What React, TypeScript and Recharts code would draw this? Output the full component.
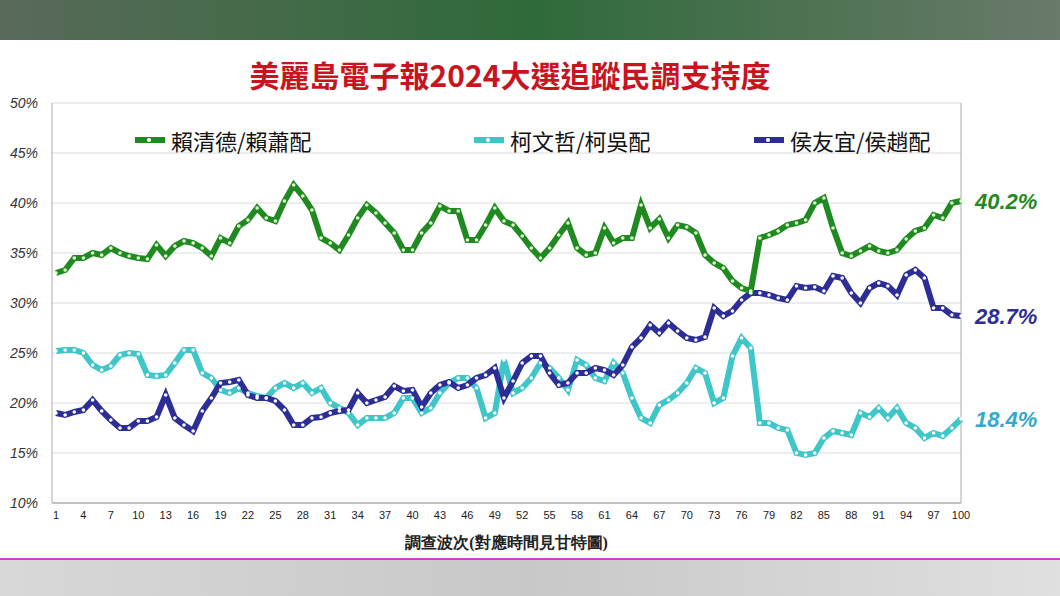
import { LineChart, Line, XAxis, YAxis, CartesianGrid } from 'recharts'

// 調查波次 1..100
const waves = Array.from({ length: 100 }, (_, i) => i + 1)
const xTicks = [1, 4, 7, 10, 13, 16, 19, 22, 25, 28, 31, 34, 37, 40, 43, 46, 49, 52, 55, 58, 61, 64, 67, 70, 73, 76, 79, 82, 85, 88, 91, 94, 97, 100]
const yTicks = [10, 15, 20, 25, 30, 35, 40, 45, 50]

// 賴清德/賴蕭配
const lai = [
  33, 33.3, 34.5, 34.5, 35, 34.8, 35.5, 35, 34.7, 34.5,
  34.4, 35.8, 34.7, 35.7, 36.2, 36, 35.5, 34.7, 36.5, 36,
  37.7, 38.3, 39.5, 38.5, 38.2, 40.2, 41.8, 40.7, 39.3, 36.5,
  36, 35.3, 36.8, 38.5, 39.8, 39, 38, 37, 35.3, 35.3,
  37, 38, 39.7, 39.2, 39.2, 36.3, 36.3, 37.8, 39.5, 38.2,
  37.8, 36.7, 35.5, 34.5, 35.5, 36.8, 38, 35.5, 34.8, 35,
  37.5, 36, 36.5, 36.5, 39.8, 37.5, 38.4, 36.5, 37.8, 37.6,
  37, 34.8, 34, 33.5, 32.2, 31.5, 31.2, 36.5, 36.8, 37.2,
  37.8, 38, 38.3, 40, 40.5, 37.5, 35, 34.7, 35.2, 35.7,
  35.2, 35, 35.3, 36.4, 37.2, 37.5, 38.8, 38.5, 40, 40.2,
]
// 柯文哲/柯吳配
const ko = [
  25.2, 25.3, 25.3, 25, 23.8, 23.3, 23.7, 24.8, 25, 24.9,
  22.8, 22.7, 22.8, 24, 25.3, 25.3, 23, 22.5, 21.3, 21,
  21.5, 21, 20.7, 20.5, 21.5, 22, 21.5, 22, 21, 21.5,
  20, 19.5, 19, 17.8, 18.5, 18.5, 18.5, 19, 20.5, 20.5,
  19, 19.5, 21, 22, 22.5, 22.5, 21.5, 18.5, 19, 24.3,
  21, 21.5, 22.5, 24, 23.5, 22.5, 21.3, 24.3, 23.8, 22.5,
  22.2, 24, 23, 20.5, 18.5, 18, 19.8, 20.3, 21, 22,
  23.5, 23, 20, 20.5, 24.7, 26.5, 25.5, 18, 18, 17.5,
  17.3, 15, 14.8, 15, 16.5, 17.2, 17, 16.8, 19, 18.6,
  19.5, 18.5, 19.5, 18, 17.5, 16.5, 17, 16.7, 17.5, 18.4,
]
// 侯友宜/侯趙配
const hou = [
  19, 18.8, 19.1, 19.3, 20.3, 19.2, 18.3, 17.5, 17.5, 18.2,
  18.2, 18.6, 20.8, 18.5, 17.8, 17.2, 19.2, 20.5, 22, 22.1,
  22.3, 20.8, 20.5, 20.5, 20.2, 19.3, 17.8, 17.8, 18.5, 18.6,
  19, 19.2, 19.3, 21, 20, 20.3, 20.6, 21.7, 21.2, 21.3,
  19.6, 21, 21.8, 22.1, 21.5, 21.8, 22.5, 22.8, 23.5, 20.5,
  22.2, 24, 24.7, 24.7, 23, 21.8, 22, 23, 23, 23.5,
  23.3, 22.8, 23.8, 25.6, 26.5, 27.8, 27, 28, 27.2, 26.5,
  26.3, 26.6, 29.5, 28.7, 29.2, 30.3, 31, 31, 30.8, 30.5,
  30.3, 31.7, 31.5, 31.6, 31.2, 32.7, 32.5, 31, 30, 31.5,
  32, 31.7, 30.8, 32.8, 33.3, 32.5, 29.5, 29.5, 28.8, 28.7,
]

const chartData = waves.map((w, i) => ({ wave: w, lai: lai[i], ko: ko[i], hou: hou[i] }))

const GREEN = '#1f8a1f'
const CYAN = '#3ec6c8'
const BLUE = '#2d2d96'

const endLabel = (color: string, dy: number) => (props: any) => {
  if (props.index !== chartData.length - 1) return null
  return (
    <text x={props.x + 14} y={props.y + dy} fill={color} fontSize={22} fontWeight="bold" fontStyle="italic"
      fontFamily="Liberation Sans, Arial, sans-serif">
      {props.value}%
    </text>
  )
}

const legendItems = [
  { name: '賴清德/賴蕭配', color: GREEN, x: 135 },
  { name: '柯文哲/柯吳配', color: CYAN, x: 474 },
  { name: '侯友宜/侯趙配', color: BLUE, x: 754 },
]

export default function App() {
  return (
    <div style={{ position: 'fixed', left: 0, top: 0, width: 1060, height: 596, background: '#fff', overflow: 'hidden' }}>
      <div style={{ position: 'absolute', left: 0, top: 0, width: 1060, height: 40, background: 'linear-gradient(90deg,#5a6a5a,#2f6a3a,#6a7a6a)' }} />
      <div style={{ position: 'absolute', left: 0, top: 558, width: 1060, height: 38, background: 'linear-gradient(90deg,#d8d8d8,#c8c8c8,#e0e0e0)', borderTop: '2px solid #d040d0' }} />
      <div style={{ position: 'absolute', left: 0, top: 52, width: 1020, textAlign: 'center', color: '#c8141e', fontSize: 30, fontWeight: 'bold', fontFamily: 'Noto Sans CJK TC, sans-serif' }}>
        美麗島電子報2024大選追蹤民調支持度
      </div>
      <div style={{ position: 'absolute', top: 40 }}>
        <LineChart width={1060} height={518} data={chartData} margin={{ top: 63, right: 98, left: 48, bottom: 0 }}>
          <CartesianGrid vertical={false} stroke="#dcdcdc" />
          <XAxis dataKey="wave" type="number" domain={[1, 100]} ticks={xTicks} interval={0}
            tick={{ fill: '#222', fontSize: 11, fontFamily: 'Liberation Sans Narrow, Liberation Sans, sans-serif' }}
            tickLine={false} axisLine={{ stroke: '#999' }} height={55} padding={{ left: 4, right: 0 }}
            label={{ value: '調查波次(對應時間見甘特圖)', position: 'insideBottom', offset: 10, fill: '#222', fontSize: 16, fontWeight: 'bold' }} />
          <YAxis domain={[10, 50]} ticks={yTicks} width={4} tickFormatter={(v: number) => `${v}%`}
            tick={{ fill: '#333', fontSize: 14, fontStyle: 'italic', fontFamily: 'Liberation Sans Narrow, sans-serif', dx: -6 }}
            tickLine={false} axisLine={{ stroke: '#aaa' }} />
          <YAxis yAxisId="r" orientation="right" domain={[10, 50]} ticks={yTicks} width={1} tick={false} tickLine={false} axisLine={{ stroke: '#aaa' }} />
          <Line dataKey="ko" stroke={CYAN} strokeWidth={6} isAnimationActive={false}
            dot={{ r: 1.8, fill: '#fff', stroke: 'none' }} label={endLabel('#33aacc', 8)} />
          <Line dataKey="hou" stroke={BLUE} strokeWidth={6} isAnimationActive={false}
            dot={{ r: 1.8, fill: '#fff', stroke: 'none' }} label={endLabel(BLUE, 8)} />
          <Line dataKey="lai" stroke={GREEN} strokeWidth={6} isAnimationActive={false}
            dot={{ r: 1.8, fill: '#dfffd0', stroke: 'none' }} label={endLabel(GREEN, 8)} />
        </LineChart>
      </div>
      {legendItems.map((it) => (
        <div key={it.name} style={{ position: 'absolute', left: it.x, top: 124, display: 'flex', alignItems: 'center', fontFamily: 'Noto Sans CJK TC, sans-serif', fontSize: 22, color: '#111' }}>
          <span style={{ display: 'inline-block', width: 30, height: 6, background: it.color, marginRight: 6, position: 'relative' }}>
            <span style={{ position: 'absolute', left: 12, top: 1, width: 4, height: 4, borderRadius: 2, background: '#fff' }} />
          </span>
          {it.name}
        </div>
      ))}
    </div>
  )
}
